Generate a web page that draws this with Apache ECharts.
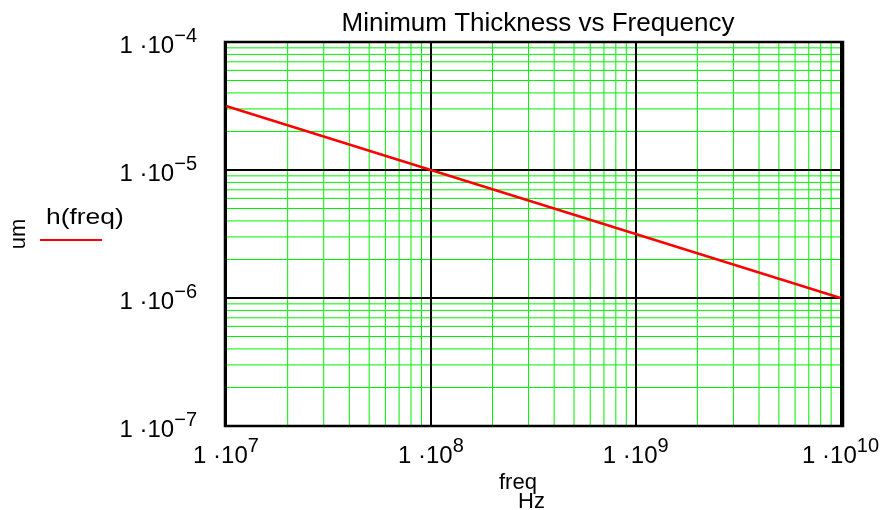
<!DOCTYPE html>
<html>
<head>
<meta charset="utf-8">
<script src="https://cdn.jsdelivr.net/npm/echarts@6/dist/echarts.min.js"></script>
<style>
  html, body { margin: 0; padding: 0; background: #fff; }
  #main { width: 882px; height: 510px; }
</style>
</head>
<body>
<div id="main"></div>
<script>
// data
let freq = [1e7, 1e8, 1e9, 1e10];
let thickness = [3.16e-5, 1e-5, 3.16e-6, 1e-6];

// grid (tick) positions
let xDecades = [1e7, 1e8, 1e9];
let yDecades = [1e-7, 1e-6, 1e-5];
let mantissas = [2, 3, 4, 5, 6, 7, 8, 9];
let xRange = [1e7, 1e10];
let yRange = [1e-7, 1e-4];

let minorX = [];
xDecades.forEach((d) => mantissas.forEach((m) => minorX.push(m * d)));
let minorY = [];
yDecades.forEach((d) => mantissas.forEach((m) => minorY.push(m * d)));

let font = "Liberation Sans, Arial, sans-serif";

function powLabel(v) {
  let e = Math.round(Math.log10(v));
  let s = e < 0 ? "\u2212" + -e : "" + e;
  return "{b|1 \u00b710}{s|" + s + "}";
}

let labelRich = {
  b: { fontSize: 24, fontFamily: font, color: "#000", lineHeight: 32, verticalAlign: "bottom" },
  s: { fontSize: 20, fontFamily: font, color: "#000", lineHeight: 32, verticalAlign: "top" },
};

// one thin green series per minor grid line
let gridSegs = [];
minorX.forEach((v) => gridSegs.push([[v, yRange[0]], [v, yRange[1]]]));
minorY.forEach((v) => gridSegs.push([[xRange[0], v], [xRange[1], v]]));
let gridSeries = gridSegs.map((seg) => ({
  type: "line",
  silent: true,
  z: 1,
  showSymbol: false,
  symbol: "none",
  lineStyle: { color: "#00ee00", width: 1 },
  emphasis: { disabled: true },
  data: seg,
}));

let axisCommon = {
  type: "log",
  logBase: 10,
  z: 5,
  axisLine: { show: true, lineStyle: { color: "#000", width: 2 } },
  axisTick: { show: false },
  minorTick: { show: false },
  minorSplitLine: { show: false },
  splitLine: { show: true, lineStyle: { color: "#000", width: 2 } },
};

let options = {
  animation: false,
  title: {
    text: "Minimum Thickness vs Frequency",
    left: 533,
    top: 6,
    textAlign: "center",
    textStyle: { fontSize: 26, fontWeight: "normal", color: "#000", fontFamily: font },
  },
  grid: { left: 225, top: 42, width: 618, height: 384 },
  xAxis: Object.assign({}, axisCommon, {
    min: xRange[0],
    max: xRange[1],
    axisLabel: { formatter: powLabel, rich: labelRich, margin: 10 },
  }),
  yAxis: Object.assign({}, axisCommon, {
    min: yRange[0],
    max: yRange[1],
    name: "um",
    nameLocation: "middle",
    nameRotate: 90,
    nameGap: 196,
    nameTextStyle: { fontSize: 22, fontFamily: font, color: "#000" },
    axisLabel: { formatter: powLabel, rich: labelRich, margin: 29 },
  }),
  graphic: [
    {
      type: "text",
      left: 46,
      top: 207,
      scaleX: 1.2,
      style: { text: "h(freq)", fontSize: 22, fontFamily: font, fill: "#000" },
    },
    {
      type: "line",
      shape: { x1: 40, y1: 240, x2: 102, y2: 240 },
      style: { stroke: "#ff0000", lineWidth: 2 },
    },
    {
      type: "text",
      left: 499,
      top: 472,
      style: { text: "freq", fontSize: 22, fontFamily: font, fill: "#000" },
    },
    {
      type: "text",
      left: 518,
      top: 491,
      style: { text: "Hz", fontSize: 22, fontFamily: font, fill: "#000" },
    },
    {
      type: "rect",
      z: 20,
      shape: { x: 225, y: 42, width: 618, height: 384 },
      style: { fill: "none", stroke: "#000", lineWidth: 2.5 },
    },
  ],
  series: gridSeries.concat([
    {
      name: "h(freq)",
      type: "line",
      z: 10,
      showSymbol: false,
      lineStyle: { color: "#ff0000", width: 2.5 },
      data: freq.map((f, i) => [f, thickness[i]]),
    },
  ]),
};

let myChart = echarts.init(document.getElementById("main"));
myChart.setOption(options);
</script>
</body>
</html>
